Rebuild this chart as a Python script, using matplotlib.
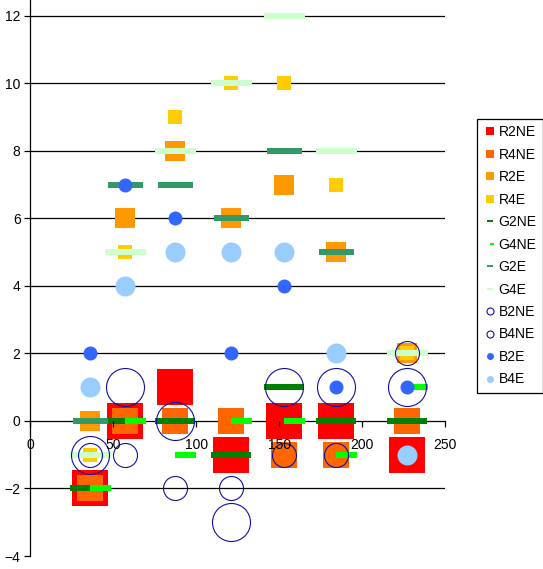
import numpy as np
import matplotlib.pyplot as plt
from matplotlib.path import Path
from matplotlib.lines import Line2D

plt.rcParams['font.family'] = ['Liberation Sans', 'DejaVu Sans']

# x positions of the seven groups
x = [36, 57, 87, 121, 153, 184, 227]

# series values
r2ne = [-2, 0, 1, -1, 0, 0, -1]
r4ne = [-2, 0, 0, 0, -1, -1, 0]
r2e = [0, 6, 8, 6, 7, 5, 2]
r4e = [-1, 5, 9, 10, 10, 7, 2]
g2ne = [-2, 0, 0, -1, 1, 0, 0]
g4ne = [-2, 0, -1, 0, 0, -1, 1]
g2e = [0, 7, 7, 6, 8, 5, np.nan]
g4e = [-1, 5, 8, 10, 12, 8, 2]
b2ne = [-1, 1, 0, -3, 1, 1, 1]
b4ne = [-1, -1, -2, -2, -1, -1, 2]
b2e = [2, 7, 6, 2, 4, 1, 1]
b4e = [1, 4, 5, 5, 5, 2, -1]

names = ['R2NE', 'R4NE', 'R2E', 'R4E', 'G2NE', 'G4NE', 'G2E', 'G4E',
         'B2NE', 'B4NE', 'B2E', 'B4E']
values = [r2ne, r4ne, r2e, r4e, g2ne, g4ne, g2e, g4e, b2ne, b4ne, b2e, b4e]


def dash(ratio, half=False):
    # horizontal bar marker, the half one starts at the point and goes right
    h = ratio / 2
    if half:
        verts = [(0, -h), (1, -h), (1, h), (0, h), (0, -h)]
    else:
        verts = [(-0.5, -h), (0.5, -h), (0.5, h), (-0.5, h), (-0.5, -h)]
    return Path(verts, closed=True)


px = 0.72  # pixels -> points at 100 dpi
navy = '#1010A0'

# marker, size, face, edge  (chart) / marker, size (legend)
styles = [
    ('s', 36, '#FF0000', 'none', 's', 8),
    ('s', 26, '#FF6600', 'none', 's', 8),
    ('s', 20, '#FF9900', 'none', 's', 8),
    ('s', 14, '#FFCC00', 'none', 's', 8),
    (dash(7 / 40), 40, '#008000', 'none', dash(0.3), 6),
    (dash(6 / 21, True), 42, '#00FF00', 'none', dash(0.5, True), 8),
    (dash(6 / 35), 35, '#339966', 'none', dash(0.3), 6),
    (dash(6 / 41), 41, '#CCFFCC', 'none', dash(0.3), 6),
    ('o', 38, 'none', navy, 'o', 7),
    ('o', 24, 'none', navy, 'o', 7),
    ('o', 14, '#3366FF', 'none', 'o', 7),
    ('o', 20, '#99CCFF', 'none', 'o', 7),
]

fig = plt.figure(figsize=(5.43, 5.69), dpi=100)
ax = fig.add_axes([30.3 / 543, 13 / 569, 415 / 543, 556 / 569])
ax.set_xlim(0, 250)
ax.set_ylim(-4, 12.47)

for v in [-2, 2, 4, 6, 8, 10, 12]:
    ax.axhline(v, color='black', lw=0.9, zorder=0.5)

handles = []
for i, (name, y) in enumerate(zip(names, values)):
    m, size, fc, ec, lm, lsize = styles[i]
    ew = 0.8 if ec != 'none' else 0
    ax.plot(x, y, linestyle='none', marker=m, ms=size * px, mfc=fc, mec=ec,
            mew=ew, zorder=2 + i * 0.1)
    handles.append(Line2D([], [], linestyle='none', marker=lm, ms=lsize * px,
                          mfc=fc, mec=ec, mew=ew))

for s in ['top', 'right']:
    ax.spines[s].set_visible(False)
ax.spines['bottom'].set_position(('data', 0))
ax.spines['bottom'].set_zorder(0.6)
ax.spines['left'].set_zorder(0.6)
for s in ['bottom', 'left']:
    ax.spines[s].set_linewidth(0.9)

ax.set_xticks(range(0, 251, 50))
ax.set_yticks(range(-4, 13, 2))
ax.tick_params(axis='x', direction='out', length=4, width=0.9, pad=8,
               labelsize=10)
ax.tick_params(axis='y', direction='out', length=4, width=0.9, pad=3,
               labelsize=10)
ax.xaxis.set_zorder(20)

leg = fig.legend(handles, names, loc='upper left',
                 bbox_to_anchor=(477 / 543, 1 - 119 / 569),
                 bbox_transform=fig.transFigure, frameon=True, fancybox=False,
                 edgecolor='black', framealpha=1, borderaxespad=0, fontsize=10,
                 handlelength=0.9, handletextpad=0.2, labelspacing=0.61,
                 borderpad=0.45)
leg.get_frame().set_linewidth(0.9)

fig.savefig('out.png', dpi=100)
